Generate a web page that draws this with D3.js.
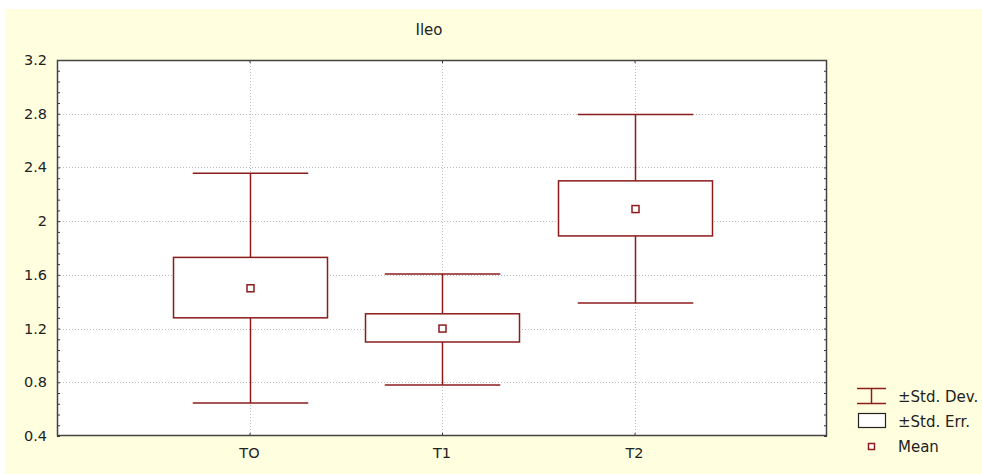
<!DOCTYPE html>
<html><head><meta charset="utf-8">
<script src="https://cdn.jsdelivr.net/npm/d3@7"></script>
<style>body{margin:0;background:#fff;}svg{display:block;}</style>
</head><body>
<svg id="c" width="982" height="474"></svg>
<script>
const categories = ["TO", "T1", "T2"];
const means   = [1.50, 1.20, 2.09];
const seLow   = [1.28, 1.10, 1.89];
const seHigh  = [1.73, 1.31, 2.30];
const sdLow   = [0.645, 0.78, 1.39];
const sdHigh  = [2.357, 1.607, 2.795];
const yTicks  = [0.4, 0.8, 1.2, 1.6, 2.0, 2.4, 2.8, 3.2];
const yTickLabels = ["0.4","0.8","1.2","1.6","2","2.4","2.8","3.2"];
const legendLabels = ["\u00B1Std. Dev.", "\u00B1Std. Err.", "Mean"];
const title = "Ileo";

const svg = d3.select("#c");
const red = "#8c1c1c";
const font = "'DejaVu Sans', Verdana, sans-serif";
svg.append("rect").attr("x",5).attr("y",9).attr("width",977).attr("height",465).attr("fill","#ffffe0");

const L=57, T=60, R=827, B=436;
const x = d3.scaleLinear().domain([0,4]).range([L,R]);
const y = d3.scaleLinear().domain([0.4,3.2]).range([B,T]);
const band = x(1)-x(0);

svg.append("rect").attr("x",L).attr("y",T).attr("width",R-L).attr("height",B-T).attr("fill","#fff");

// grid
const g = svg.append("g");
g.selectAll(".gy").data(yTicks.slice(1,-1)).enter().append("line")
  .attr("x1",L).attr("x2",R).attr("y1",d=>Math.round(y(d))+0.5).attr("y2",d=>Math.round(y(d))+0.5)
  .attr("stroke","#bbb").attr("stroke-dasharray","1,2");
g.selectAll(".gx").data(categories).enter().append("line")
  .attr("x1",(d,i)=>Math.round(x(i+1))+0.5).attr("x2",(d,i)=>Math.round(x(i+1))+0.5).attr("y1",T).attr("y2",B)
  .attr("stroke","#bbb").attr("stroke-dasharray","1,2");

// axes
const minor = d3.range(0.4, 3.2001, 0.08);
const ax = svg.append("g").attr("transform",`translate(${L},0)`)
  .call(d3.axisRight(y).tickValues(minor).tickSize(3).tickFormat(""));
const ax2 = svg.append("g").attr("transform",`translate(${R},0)`)
  .call(d3.axisLeft(y).tickValues(minor).tickSize(3).tickFormat(""));
const ax3 = svg.append("g").attr("transform",`translate(0,${B})`)
  .call(d3.axisTop(x).tickValues([1,2,3]).tickSize(3).tickFormat(""));
const ax4 = svg.append("g").attr("transform",`translate(0,${T})`)
  .call(d3.axisBottom(x).tickValues([1,2,3]).tickSize(3).tickFormat(""));
[ax,ax2,ax3,ax4].forEach(a=>{a.select(".domain").remove(); a.selectAll("line").attr("stroke","#333");});
svg.append("rect").attr("x",L+0.5).attr("y",T+0.5).attr("width",R-L-1).attr("height",B-T-1)
  .attr("fill","none").attr("stroke","#444").attr("stroke-width",1.5);

// y labels
svg.selectAll(".yl").data(yTicks).enter().append("text")
  .attr("x",L-10).attr("y",d=>y(d)+5).attr("text-anchor","end")
  .attr("font-family",font).attr("font-size",14.5).attr("fill","#222").text((d,i)=>yTickLabels[i]);
// x labels
svg.selectAll(".xl").data(categories).enter().append("text")
  .attr("x",(d,i)=>x(i+1)).attr("y",B+22).attr("text-anchor","middle")
  .attr("font-family",font).attr("font-size",14.5).attr("fill","#222").text(d=>d);
// title
svg.append("text").attr("x",429).attr("y",35).attr("text-anchor","middle")
  .attr("font-family",font).attr("font-size",15).attr("fill","#222").text(title);

// marks
const boxW = band*0.8, capW = band*0.6;
const m = svg.append("g").attr("stroke",red).attr("stroke-width",1.5).attr("fill","none");
categories.forEach((c,i)=>{
  const cx = Math.round(x(i+1))+0.5;
  m.append("line").attr("x1",cx).attr("x2",cx).attr("y1",y(sdHigh[i])).attr("y2",y(seHigh[i]));
  m.append("line").attr("x1",cx).attr("x2",cx).attr("y1",y(seLow[i])).attr("y2",y(sdLow[i]));
  m.append("line").attr("x1",cx-capW/2).attr("x2",cx+capW/2).attr("y1",y(sdHigh[i])).attr("y2",y(sdHigh[i]));
  m.append("line").attr("x1",cx-capW/2).attr("x2",cx+capW/2).attr("y1",y(sdLow[i])).attr("y2",y(sdLow[i]));
  m.append("rect").attr("x",cx-boxW/2).attr("y",y(seHigh[i])).attr("width",boxW).attr("height",y(seLow[i])-y(seHigh[i])).attr("fill","#fff");
  m.append("rect").attr("x",cx-3.5).attr("y",y(means[i])-3.5).attr("width",7).attr("height",7).attr("fill","#fff");
});

// legend
const lg = svg.append("g");
lg.append("line").attr("x1",857).attr("x2",886).attr("y1",388.5).attr("y2",388.5).attr("stroke",red).attr("stroke-width",1.5);
lg.append("line").attr("x1",857).attr("x2",886).attr("y1",403.5).attr("y2",403.5).attr("stroke",red).attr("stroke-width",1.5);
lg.append("line").attr("x1",871.5).attr("x2",871.5).attr("y1",388.5).attr("y2",403.5).attr("stroke",red).attr("stroke-width",1.5);
lg.append("rect").attr("x",858.5).attr("y",413.5).attr("width",27).attr("height",14).attr("fill","#fff").attr("stroke","#222").attr("stroke-width",1.2);
lg.append("rect").attr("x",868.5).attr("y",443.5).attr("width",6).attr("height",6).attr("fill","#fff").attr("stroke",red).attr("stroke-width",1.5);
lg.selectAll(".lt").data(legendLabels).enter().append("text")
  .attr("x",898).attr("y",(d,i)=>402+i*25).attr("font-family",font).attr("font-size",15).attr("fill","#222").text(d=>d);
</script>
</body></html>
